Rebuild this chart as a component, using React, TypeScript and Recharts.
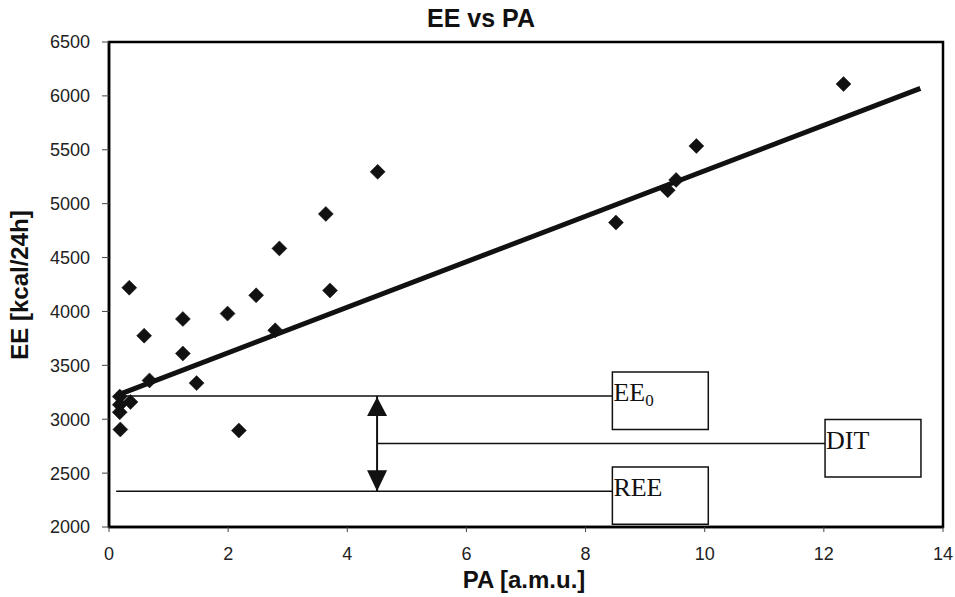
import {
  Customized,
  ReferenceArea,
  ReferenceDot,
  ReferenceLine,
  Scatter,
  ScatterChart,
  XAxis,
  YAxis,
} from "recharts";

// measured points: physical activity (a.m.u.) vs energy expenditure (kcal/24h)
const paValues = [
  0.18, 0.18, 0.18, 0.19, 0.36, 0.34, 0.59, 0.68, 1.24, 1.24, 1.47, 1.99, 2.18,
  2.47, 2.79, 2.86, 3.64, 3.71, 4.51, 8.51, 9.38, 9.52, 9.86, 12.33,
];
const eeValues = [
  3210, 3135, 3065, 2905, 3160, 4220, 3775, 3360, 3930, 3610, 3335, 3980, 2895,
  4150, 3825, 4585, 4905, 4195, 5295, 4825, 5125, 5220, 5535, 6110,
];

// regression line end points
const trendPa = [0.13, 13.62];
const trendEe = [3222, 6070];

const xTicks = [0, 2, 4, 6, 8, 10, 12, 14];
const yTicks = [2000, 2500, 3000, 3500, 4000, 4500, 5000, 5500, 6000, 6500];

// annotation levels
const ee0Level = 3216;
const reeLevel = 2331;
const ditLevel = 2774;
const arrowPa = 4.5;
const guideStartPa = 0.12;
const labelBoxPa = [8.45, 10.06];
const ditBoxPa = [12.02, 13.63];
const ee0Box = [2904, 3439];
const reeBox = [2025, 2557];
const ditBox = [2464, 2997];

const points = paValues.map((pa, i) => ({ pa, ee: eeValues[i] }));
const trend = trendPa.map((pa, i) => ({ pa, ee: trendEe[i] }));

const ink = "#111";
const sans = "'Liberation Sans', Arial, sans-serif";
const serif = "'Liberation Serif', 'Times New Roman', serif";

const Diamond = (p: any) => {
  const { cx, cy } = p;
  const r = 7.5;
  return (
    <path
      d={`M${cx},${cy - r} L${cx + r},${cy} L${cx},${cy + r} L${cx - r},${cy} Z`}
      fill={ink}
      stroke={ink}
      strokeWidth={0.5}
      strokeLinejoin="round"
    />
  );
};

const BoxText = ({ viewBox, text, sub }: any) => {
  if (!viewBox) return null;
  return (
    <text
      x={viewBox.x + 1}
      y={viewBox.y + 29}
      fontFamily={serif}
      fontSize={26}
      fill={ink}
    >
      {text}
      {sub && (
        <tspan fontSize={17} dy={5}>
          {sub}
        </tspan>
      )}
    </text>
  );
};

const ArrowUp = (p: any) => (
  <path
    d={`M${p.cx},${p.cy + 1} L${p.cx + 10},${p.cy + 20} L${p.cx - 10},${p.cy + 20} Z`}
    fill={ink}
  />
);

const ArrowDown = (p: any) => (
  <path
    d={`M${p.cx},${p.cy} L${p.cx + 10},${p.cy - 21} L${p.cx - 10},${p.cy - 21} Z`}
    fill={ink}
  />
);

const Titles = () => (
  <g fontFamily={sans} fontWeight="bold" fill={ink}>
    <text x={481} y={27} fontSize={25} textAnchor="middle">
      EE vs PA
    </text>
    <text x={524} y={588} fontSize={24} textAnchor="middle">
      PA [a.m.u.]
    </text>
    <text
      x={0}
      y={0}
      fontSize={24}
      textAnchor="middle"
      transform="translate(28,285) rotate(-90)"
    >
      EE [kcal/24h]
    </text>
  </g>
);

export default function App() {
  return (
    <div
      style={{
        position: "fixed",
        left: 0,
        top: 0,
        width: 955,
        height: 597,
        background: "#fff",
      }}
    >
      <ScatterChart
        width={955}
        height={597}
        margin={{ top: 42, right: 12, bottom: 0, left: 0 }}
      >
        <XAxis
          type="number"
          dataKey="pa"
          domain={[0, 14]}
          ticks={xTicks}
          height={70}
          tickSize={5}
          tickMargin={15}
          axisLine={{ stroke: "#000", strokeWidth: 2.5 }}
          tickLine={{ stroke: "#444" }}
          tick={{ fontSize: 18, fill: "#222", fontFamily: sans }}
        />
        <YAxis
          type="number"
          dataKey="ee"
          domain={[2000, 6500]}
          ticks={yTicks}
          width={109}
          tickSize={7}
          tickMargin={12}
          axisLine={{ stroke: "#000", strokeWidth: 2.5 }}
          tickLine={{ stroke: "#444" }}
          tick={{ fontSize: 18, fill: "#222", fontFamily: sans }}
        />

        <ReferenceArea
          x1={0}
          x2={14}
          y1={2000}
          y2={6500}
          fill="none"
          stroke="#000"
          strokeWidth={2.5}
          ifOverflow="visible"
        />

        <ReferenceLine
          segment={[
            { x: guideStartPa, y: ee0Level },
            { x: labelBoxPa[0], y: ee0Level },
          ]}
          stroke={ink}
          strokeWidth={1.5}
        />
        <ReferenceLine
          segment={[
            { x: guideStartPa, y: reeLevel },
            { x: labelBoxPa[0], y: reeLevel },
          ]}
          stroke={ink}
          strokeWidth={1.5}
        />
        <ReferenceLine
          segment={[
            { x: arrowPa, y: ditLevel },
            { x: ditBoxPa[0], y: ditLevel },
          ]}
          stroke={ink}
          strokeWidth={1.5}
        />
        <ReferenceLine
          segment={[
            { x: arrowPa, y: ee0Level },
            { x: arrowPa, y: reeLevel },
          ]}
          stroke={ink}
          strokeWidth={2}
        />

        <ReferenceArea
          x1={labelBoxPa[0]}
          x2={labelBoxPa[1]}
          y1={ee0Box[0]}
          y2={ee0Box[1]}
          fill="#fff"
          fillOpacity={0}
          stroke={ink}
          strokeWidth={1.5}
          label={<BoxText text="EE" sub="0" />}
        />
        <ReferenceArea
          x1={labelBoxPa[0]}
          x2={labelBoxPa[1]}
          y1={reeBox[0]}
          y2={reeBox[1]}
          fill="#fff"
          fillOpacity={0}
          stroke={ink}
          strokeWidth={1.5}
          label={<BoxText text="REE" />}
        />
        <ReferenceArea
          x1={ditBoxPa[0]}
          x2={ditBoxPa[1]}
          y1={ditBox[0]}
          y2={ditBox[1]}
          fill="#fff"
          fillOpacity={0}
          stroke={ink}
          strokeWidth={1.5}
          label={<BoxText text="DIT" />}
        />

        <ReferenceDot x={arrowPa} y={ee0Level} r={1} shape={ArrowUp} />
        <ReferenceDot x={arrowPa} y={reeLevel} r={1} shape={ArrowDown} />

        <Scatter
          data={trend}
          line={{ stroke: ink, strokeWidth: 5 }}
          shape={() => <g />}
          isAnimationActive={false}
        />
        <Scatter data={points} shape={Diamond} isAnimationActive={false} />

        <Customized component={Titles} />
      </ScatterChart>
    </div>
  );
}
